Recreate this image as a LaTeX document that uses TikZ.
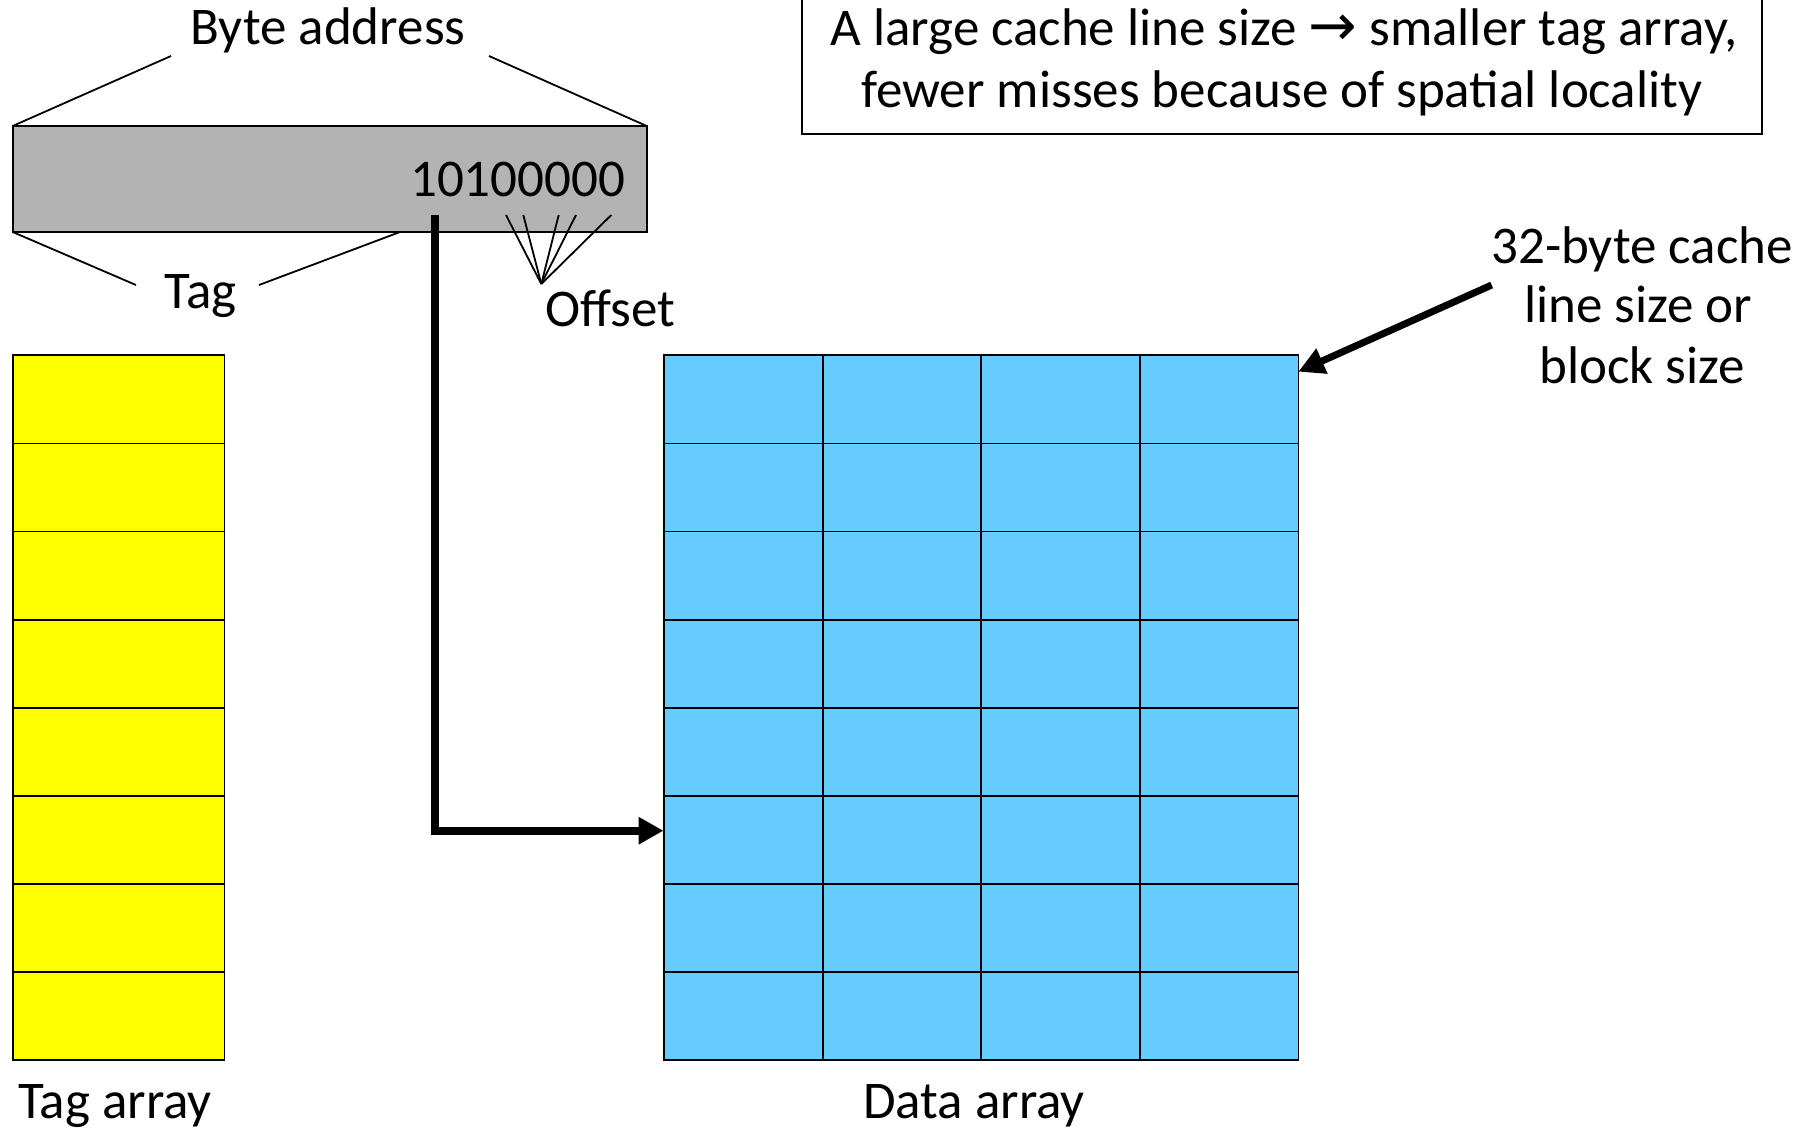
\documentclass[tikz,border=0pt]{standalone}
\usepackage{fontspec}
\setmainfont{Carlito}
\newfontfamily\arrowfont{DejaVu Sans}
\usetikzlibrary{arrows.meta}
\definecolor{addrgray}{HTML}{B3B3B3}
\definecolor{tagyellow}{HTML}{FFFF00}
\definecolor{datablue}{HTML}{66CCFF}
\begin{document}
\begin{tikzpicture}[x=0.5pt,y=-0.5pt,
  lbl/.style={font=\fontsize{26.5}{30}\selectfont, inner sep=0pt, anchor=base},
  leader/.style={line width=0.9pt},
  boxline/.style={line width=1pt},
  tagcell/.style={draw, fill=tagyellow, line width=0.9pt, inner sep=0pt, minimum width=105.9pt, minimum height=44.05pt},
  datacell/.style={draw, fill=datablue, line width=0.9pt, inner sep=0pt, minimum width=79.3pt, minimum height=44.05pt},
  bigarrow/.style={line width=4pt, -{Triangle[length=12.5pt,width=13pt]}},
  ptrarrow/.style={line width=3.5pt, -{Triangle[length=13pt,width=13pt]}},
]
\useasboundingbox (0,0) rectangle (1816,1129);
\clip (0,0) rectangle (1816,1129);

% address register
\coordinate (addrTL) at (12.7,126);
\coordinate (addrTR) at (646.7,126);
\coordinate (addrBL) at (12.7,232);
\coordinate (addrBR) at (646.7,232);
\draw[boxline, fill=addrgray] (addrTL) rectangle (addrBR);
\node[lbl] (bits) at (517.7,196.7) {10100000};

% byte address label and leaders
\node[lbl] (byteaddr) at (328,45) {Byte address};
\coordinate (baL) at (171,56);
\coordinate (baR) at (489,56);
\draw[leader] (addrTL) -- (baL);
\draw[leader] (addrTR) -- (baR);

% tag label and leaders
\node[lbl] (taglbl) at (200.5,308) {Tag};
\coordinate (tagsplit) at (400,232);
\coordinate (tgL) at (136,285);
\coordinate (tgR) at (259,285);
\draw[leader] (addrBL) -- (tgL);
\draw[leader] (tagsplit) -- (tgR);

% offset fan
\node[lbl] (offlbl) at (610,326.7) {Offset};
\coordinate (fan) at (541.3,284);
\foreach \i/\xx in {1/506,2/523.3,3/558.7,4/576,5/611.3}{
  \coordinate (ob\i) at (\xx,215);
  \draw[leader] (fan) -- (ob\i);
}

% note box
\coordinate (noteTL) at (801.7,-6);
\coordinate (noteBR) at (1761.7,134);
\draw[boxline] (noteTL) rectangle (noteBR);
\node[lbl] (note1) at (1284,45.7) {A large cache line size {\arrowfont\fontsize{29}{30}\selectfont →} smaller tag array,};
\node[lbl] (note2) at (1282,107.7) {fewer misses because of spatial locality};

% tag array
\foreach \r in {0,...,7}{
  \node[tagcell] (tag\r) at (118.6,{355.3+44.05+88.1*\r}) {};
}
% data array
\foreach \r in {0,...,7}{
  \foreach \c in {0,...,3}{
    \node[datacell] (data\r-\c) at ({664+79.3+158.6*\c},{355.3+44.05+88.1*\r}) {};
  }
}

\node[lbl] (tagarr) at (115,1118) {Tag array};
\node[lbl] (dataarr) at (974,1118) {Data array};

% index pointer
\coordinate (idxsrc) at (435,215);
\coordinate (idxdst) at (663.5,830.7);
\draw[bigarrow] (idxsrc) |- (idxdst);

% block size annotation
\node[lbl] (bs1) at (1642,263.3) {32-byte cache};
\node[lbl] (bs2) at (1638,322) {line size or};
\node[lbl] (bs3) at (1642,383) {block size};
\coordinate (bsfrom) at (1491.7,285);
\coordinate (bsto) at (1298.3,371.7);
\draw[ptrarrow] (bsfrom) -- (bsto);
\end{tikzpicture}
\end{document}
